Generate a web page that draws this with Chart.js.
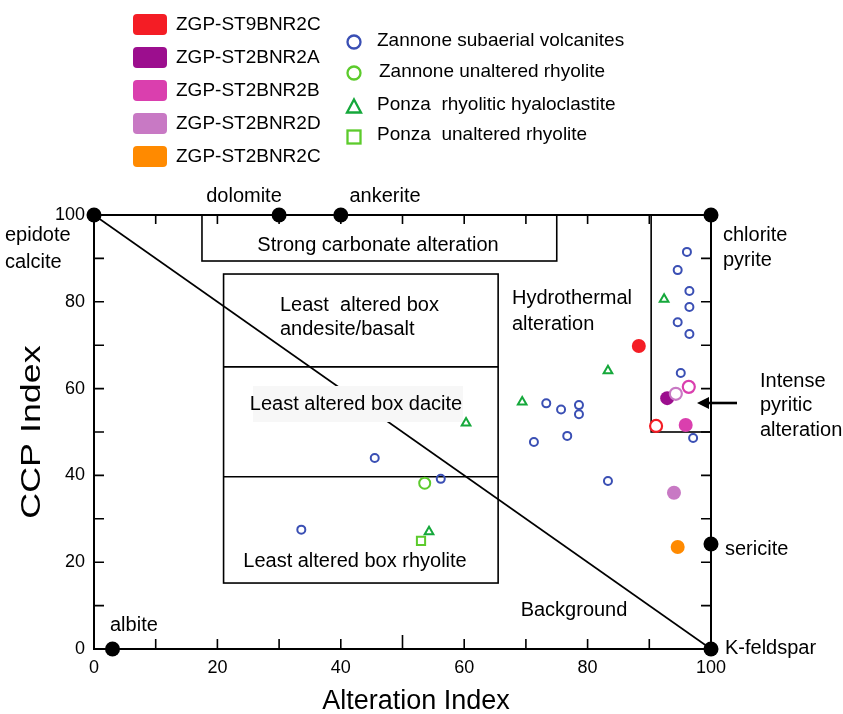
<!DOCTYPE html>
<html lang="en">
<head>
<meta charset="UTF-8">
<title>Alteration box plot</title>
<script src="https://cdn.jsdelivr.net/npm/chart.js"></script>
<style>
    body { margin: 0; background: #fff; }
    #wrap { width: 843px; height: 714px; }
</style>
</head>
<body>
<div id="wrap"><canvas id="boxPlot" width="843" height="714"></canvas></div>
<script>
// mineral end-members (AI, CCPI)
const mineralNames = ['epidote calcite', 'dolomite', 'ankerite', 'chlorite pyrite', 'sericite', 'K-feldspar', 'albite'];
const mineralAI   = [0, 30, 40, 100, 100, 100, 3];
const mineralCCPI = [100, 100, 100, 100, 24.2, 0, 0];

// Zannone subaerial volcanites
const zanVolcAI   = [33.6, 45.5, 56.2, 71.3, 73.3, 75.7, 76.7, 78.6, 78.6, 83.3, 96.1, 94.6, 96.5, 96.5, 94.6, 96.5, 95.1, 97.1];
const zanVolcCCPI = [27.5, 44.0, 39.2, 47.7, 56.6, 55.2, 49.1, 56.2, 54.1, 38.7, 91.5, 87.3, 82.5, 78.8, 75.3, 72.6, 63.6, 48.6];
// Zannone unaltered rhyolite
const zanRhyAI = [53.6];
const zanRhyCCPI = [38.2];
// Ponza rhyolitic hyaloclastite
const ponHyaAI   = [54.3, 60.3, 69.4, 83.3, 92.4];
const ponHyaCCPI = [27.0, 52.1, 56.9, 64.1, 80.6];
// Ponza unaltered rhyolite
const ponRhyAI = [53.0];
const ponRhyCCPI = [24.9];

// studied samples: filled and open symbols
const sampleNames  = ['ZGP-ST9BNR2C', 'ZGP-ST2BNR2A', 'ZGP-ST2BNR2B', 'ZGP-ST2BNR2D', 'ZGP-ST2BNR2C'];
const sampleColors = ['#f41d25', '#9c0e8e', '#da3fae', '#c879c4', '#ff8a00'];
const sampleAI     = [88.3, 92.9, 95.9, 94.0, 94.6];
const sampleCCPI   = [69.8, 57.8, 51.6, 36.0, 23.5];
const openIdx      = [0, 3, 2];
const openAI       = [91.1, 94.3, 96.4];
const openCCPI     = [51.4, 58.8, 60.4];

// fields of the plot (AI min, AI max, CCPI min, CCPI max)
const carbonateBox = [17.5, 75, 89.4, 100];
const leastAlteredAI = [21, 65.5];
const leastAlteredCCPI = [15.2, 39.7, 65, 86.4];
const pyriticBox = [90.3, 100, 50, 100];
const backgroundLine = [[0, 100], [100, 0]];

const xTicks = [0, 20, 40, 60, 80, 100];
const yTicks = [0, 20, 40, 60, 80, 100];

const FONT = '"Liberation Sans", Arial, Helvetica, sans-serif';

function pts(xs, ys) {
    return xs.map((v, i) => ({x: v, y: ys[i]}));
}

const datasets = [];
openAI.forEach((v, i) => {
    datasets.push({
        data: [{x: v, y: openCCPI[i]}],
        pointRadius: 6, pointBorderWidth: 2.2,
        pointBackgroundColor: '#fff', pointBorderColor: sampleColors[openIdx[i]],
        order: 1
    });
});
sampleAI.forEach((v, i) => {
    datasets.push({
        data: [{x: v, y: sampleCCPI[i]}],
        pointRadius: 7, pointBorderWidth: 0,
        pointBackgroundColor: sampleColors[i], pointBorderColor: sampleColors[i],
        order: 2
    });
});
datasets.push({
    data: pts(zanVolcAI, zanVolcCCPI),
    pointRadius: 4, pointBorderWidth: 2,
    pointBackgroundColor: 'rgba(0,0,0,0)', pointBorderColor: '#3a4fb4', order: 3
});
datasets.push({
    data: pts(zanRhyAI, zanRhyCCPI),
    pointRadius: 5.5, pointBorderWidth: 2,
    pointBackgroundColor: 'rgba(0,0,0,0)', pointBorderColor: '#5ccb2c', order: 3
});
datasets.push({
    data: pts(ponHyaAI, ponHyaCCPI), pointStyle: 'triangle',
    pointRadius: 5, pointBorderWidth: 2,
    pointBackgroundColor: 'rgba(0,0,0,0)', pointBorderColor: '#15a83b', order: 3
});
datasets.push({
    data: pts(ponRhyAI, ponRhyCCPI), pointStyle: 'rect',
    pointRadius: 5.8, pointBorderWidth: 2,
    pointBackgroundColor: 'rgba(0,0,0,0)', pointBorderColor: '#5ccb2c', order: 3
});
datasets.push({
    data: pts(mineralAI, mineralCCPI),
    pointRadius: 7.5, pointBorderWidth: 0,
    pointBackgroundColor: '#000', pointBorderColor: '#000', order: 4
});

function txt(ctx, s, x, y, align, size) {
    ctx.font = (size || 20) + 'px ' + FONT;
    ctx.textAlign = align || 'left';
    ctx.textBaseline = 'middle';
    ctx.fillText(s, x, y);
}

const annotations = {
    id: 'annotations',
    beforeDatasetsDraw(chart) {
        const {ctx, chartArea: a, scales: {x, y}} = chart;
        const X = v => x.getPixelForValue(v);
        const Y = v => y.getPixelForValue(v);
        ctx.save();
        ctx.strokeStyle = '#000';
        ctx.fillStyle = '#000';
        ctx.lineWidth = 1.6;

        // carbonate box
        ctx.strokeRect(X(carbonateBox[0]), Y(carbonateBox[3]), X(carbonateBox[1]) - X(carbonateBox[0]), Y(carbonateBox[2]) - Y(carbonateBox[3]));
        // least altered boxes
        const lx0 = X(leastAlteredAI[0]), lx1 = X(leastAlteredAI[1]);
        ctx.strokeRect(lx0, Y(leastAlteredCCPI[3]), lx1 - lx0, Y(leastAlteredCCPI[0]) - Y(leastAlteredCCPI[3]));
        [leastAlteredCCPI[1], leastAlteredCCPI[2]].forEach(v => {
            ctx.beginPath(); ctx.moveTo(lx0, Y(v)); ctx.lineTo(lx1, Y(v)); ctx.stroke();
        });
        // pyritic box
        ctx.strokeRect(X(pyriticBox[0]), Y(pyriticBox[3]), X(pyriticBox[1]) - X(pyriticBox[0]), Y(pyriticBox[2]) - Y(pyriticBox[3]));
        // background line
        ctx.beginPath();
        ctx.moveTo(X(backgroundLine[0][0]), Y(backgroundLine[0][1]));
        ctx.lineTo(X(backgroundLine[1][0]), Y(backgroundLine[1][1]));
        ctx.stroke();

        // frame and inner ticks
        ctx.lineWidth = 2;
        ctx.strokeRect(a.left, a.top, a.width, a.height);
        ctx.lineWidth = 1.6;
        ctx.beginPath();
        for (let v = 10; v < 100; v += 10) {
            ctx.moveTo(X(v), a.bottom); ctx.lineTo(X(v), a.bottom - (v === 50 ? 14 : 10));
            ctx.moveTo(X(v), a.top); ctx.lineTo(X(v), a.top + 9);
            ctx.moveTo(a.left, Y(v)); ctx.lineTo(a.left + 10, Y(v));
            ctx.moveTo(a.right, Y(v)); ctx.lineTo(a.right - 10, Y(v));
        }
        ctx.stroke();

        // field labels
        txt(ctx, 'Strong carbonate alteration', 378, 245, 'center');
        txt(ctx, 'Least  altered box', 280, 305);
        txt(ctx, 'andesite/basalt', 280, 329);
        ctx.fillStyle = '#f7f7f7';
        ctx.fillRect(253, 386, 210, 36);
        ctx.fillStyle = '#000';
        txt(ctx, 'Least altered box dacite', 356, 404, 'center');
        txt(ctx, 'Least altered box rhyolite', 355, 561, 'center');
        txt(ctx, 'Hydrothermal', 512, 298);
        txt(ctx, 'alteration', 512, 324);
        txt(ctx, 'Background', 574, 610, 'center');

        // mineral labels
        txt(ctx, 'dolomite', 244, 196, 'center');
        txt(ctx, 'ankerite', 385, 196, 'center');
        txt(ctx, 'epidote', 5, 235);
        txt(ctx, 'calcite', 5, 262);
        txt(ctx, 'chlorite', 723, 235);
        txt(ctx, 'pyrite', 723, 260);
        txt(ctx, 'sericite', 725, 549);
        txt(ctx, 'K-feldspar', 725, 648);
        txt(ctx, 'albite', 110, 625);
        txt(ctx, 'Intense', 760, 381);
        txt(ctx, 'pyritic', 760, 405);
        txt(ctx, 'alteration', 760, 430);

        // arrow
        ctx.lineWidth = 2.6;
        ctx.beginPath(); ctx.moveTo(737, 403); ctx.lineTo(705, 403); ctx.stroke();
        ctx.beginPath(); ctx.moveTo(697, 403); ctx.lineTo(709, 397); ctx.lineTo(709, 409); ctx.closePath(); ctx.fill();

        // axis titles
        txt(ctx, 'Alteration Index', 416, 702, 'center', 27);
        ctx.save();
        ctx.translate(32, 432);
        ctx.rotate(-Math.PI / 2);
        ctx.scale(1.28, 1);
        txt(ctx, 'CCP Index', 0, 0, 'center', 28);
        ctx.restore();

        // legend, samples
        sampleNames.forEach((n, i) => {
            const cy = 24.5 + i * 33;
            ctx.fillStyle = sampleColors[i];
            ctx.beginPath(); ctx.roundRect(133, cy - 10.5, 34, 21, 4); ctx.fill();
            ctx.fillStyle = '#000';
            txt(ctx, n, 176, cy, 'left', 19);
        });
        // legend, reference groups
        ctx.lineWidth = 2.3;
        ctx.strokeStyle = '#3a4fb4';
        ctx.beginPath(); ctx.arc(354, 42, 6.5, 0, Math.PI * 2); ctx.stroke();
        ctx.strokeStyle = '#5ccb2c';
        ctx.beginPath(); ctx.arc(354, 73, 6.5, 0, Math.PI * 2); ctx.stroke();
        ctx.strokeStyle = '#15a83b';
        ctx.beginPath(); ctx.moveTo(354, 99.5); ctx.lineTo(361, 112.5); ctx.lineTo(347, 112.5); ctx.closePath(); ctx.stroke();
        ctx.strokeStyle = '#5ccb2c';
        ctx.strokeRect(347.5, 130.5, 13, 13);
        txt(ctx, 'Zannone subaerial volcanites', 377, 41, 'left', 19);
        txt(ctx, 'Zannone unaltered rhyolite', 379, 72, 'left', 19);
        txt(ctx, 'Ponza  rhyolitic hyaloclastite', 377, 105, 'left', 19);
        txt(ctx, 'Ponza  unaltered rhyolite', 377, 135, 'left', 19);
        ctx.restore();
    }
};

new Chart(document.getElementById('boxPlot'), {
    type: 'scatter',
    data: { datasets: datasets },
    options: {
        responsive: false,
        animation: false,
        clip: false,
        layout: { padding: { top: 215, right: 132, left: 0, bottom: 0 } },
        plugins: { legend: { display: false }, tooltip: { enabled: false } },
        scales: {
            x: {
                type: 'linear', min: 0, max: 100,
                afterFit: s => { s.height = 65; },
                afterBuildTicks: s => { s.ticks = xTicks.map(v => ({value: v})); },
                grid: { display: false, drawTicks: false },
                border: { display: false },
                ticks: { color: '#000', padding: 8, maxRotation: 0, font: { size: 18, family: FONT } }
            },
            y: {
                type: 'linear', min: 0, max: 100,
                afterFit: s => { s.width = 94; },
                afterBuildTicks: s => { s.ticks = yTicks.map(v => ({value: v})); },
                grid: { display: false, drawTicks: false },
                border: { display: false },
                ticks: { color: '#000', padding: 9, font: { size: 18, family: FONT } }
            }
        }
    },
    plugins: [annotations]
});
</script>
</body>
</html>
